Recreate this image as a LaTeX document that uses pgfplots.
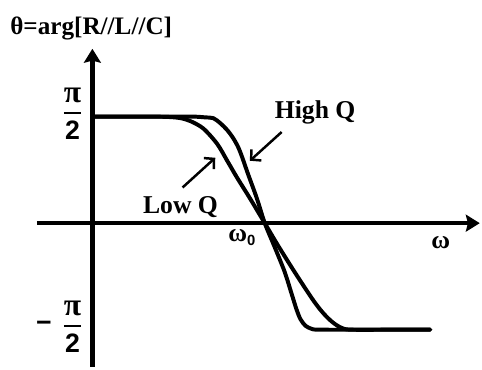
\documentclass[border=0pt]{standalone}
\usepackage{amsmath}
\usepackage{fontspec}
\setmainfont{Liberation Serif}
\setsansfont{Liberation Sans}
\usepackage{pgfplots}
\pgfplotsset{compat=1.18}
\usetikzlibrary{arrows.meta}

% phase curves: omega in units of omega_0, theta in units of pi/2
\pgfplotstableread{
x      y
0.000  1.000
0.511  1.000
0.598  1.000
0.655  0.993
0.701  0.986
0.741  0.940
0.782  0.874
0.816  0.800
0.845  0.716
0.868  0.623
0.902  0.465
0.954  0.233
1.000  0.000
1.057 -0.223
1.115 -0.456
1.155 -0.660
1.184 -0.809
1.207 -0.902
1.236 -0.963
1.270 -0.991
1.316 -1.000
1.600 -1.000
1.960 -1.000
}\highQ
\pgfplotstableread{
x      y
0.000  1.000
0.339  1.000
0.443  0.997
0.511  0.986
0.569  0.958
0.644  0.888
0.724  0.744
0.782  0.586
0.839  0.428
0.914  0.233
1.000  0.000
1.075 -0.205
1.172 -0.456
1.270 -0.698
1.316 -0.800
1.356 -0.874
1.397 -0.935
1.443 -0.981
1.500 -1.000
1.750 -1.000
1.960 -1.000
}\lowQ

\newcommand{\halfpi}{\genfrac{}{}{2.4bp}{0}{\text{\fontsize{32}{32}\selectfont\bfseries π}}{\textsf{\textbf{2}}}}

\begin{document}
\begin{tikzpicture}
\begin{axis}[
  scale only axis, width=482bp, height=368bp,
  xmin=-0.5230, xmax=2.2471, ymin=-1.3488, ymax=2.0744,
  axis lines=middle,
  axis line style={line width=4.5bp},
  x axis line style={-{Stealth[length=14bp,width=17bp,inset=2bp]}, shorten <=35bp},
  y axis line style={-{Stealth[length=14bp,width=17bp,inset=2bp]}, shorten >=47bp},
  xtick=\empty,
  ytick={-1,1},
  yticklabels={{\textsf{\textbf{−}}\hspace{11bp}$\halfpi$}, {$\halfpi$}},
  major tick length=0pt,
  yticklabel style={font=\fontsize{27}{30}\selectfont, anchor=east, inner sep=0pt, xshift=-10bp, yshift=3bp},
  clip=false,
]
\addplot[line width=4bp, smooth, tension=0.5, line cap=round, line join=round] table[x=x, y=y] {\highQ};
\addplot[line width=4bp, smooth, tension=0.5, line cap=round, line join=round] table[x=x, y=y] {\lowQ};

\node[anchor=base west, font=\fontsize{25.5}{28}\selectfont\bfseries, inner sep=0pt]
  at (rel axis cs:0.0166,0.9103) {θ=arg[R//L//C]};
\node[anchor=base west, font=\fontsize{26}{28}\selectfont\bfseries, inner sep=0pt]
  at (rel axis cs:0.5705,0.6821) {High Q};
\node[anchor=base west, font=\fontsize{26}{28}\selectfont\bfseries, inner sep=0pt]
  at (rel axis cs:0.2946,0.4212) {Low Q};
\node[anchor=base west, font=\fontsize{26}{28}\selectfont\bfseries, inner sep=0pt]
  at (rel axis cs:0.4730,0.3424) {ω\raisebox{-4bp}{\fontsize{15}{15}\selectfont\textsf{0}}};
\node[anchor=base west, font=\fontsize{26}{28}\selectfont\bfseries, inner sep=0pt]
  at (rel axis cs:0.8983,0.3234) {ω};

\draw[line width=2.5bp, -{Straight Barb[length=7bp,width=15bp]}]
  (rel axis cs:0.5851,0.6440) -- (rel axis cs:0.5187,0.5652);
\draw[line width=2.5bp, -{Straight Barb[length=7bp,width=15bp]}]
  (rel axis cs:0.3776,0.4918) -- (rel axis cs:0.4461,0.5734);
\end{axis}
\end{tikzpicture}
\end{document}
